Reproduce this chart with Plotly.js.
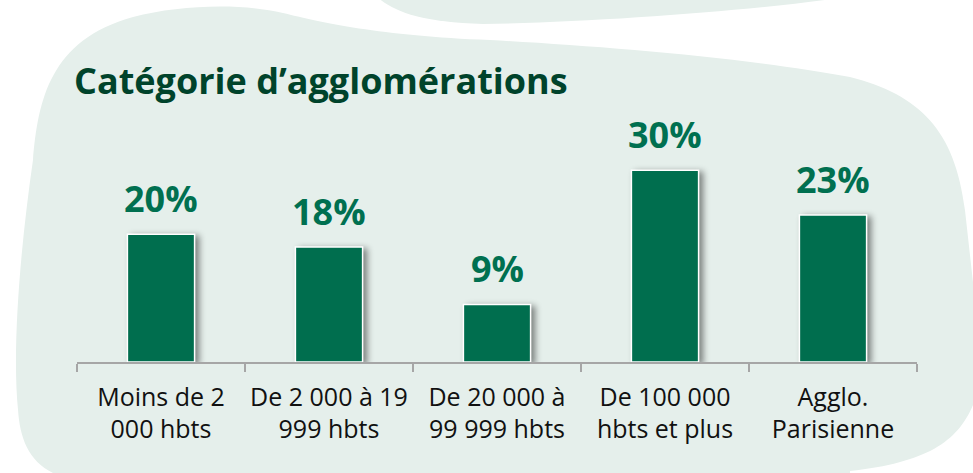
<!DOCTYPE html>
<html>
<head>
<meta charset="utf-8">
<script src="https://cdn.plot.ly/plotly-3.0.1.min.js"></script>
<style>
  html, body { margin: 0; padding: 0; background: #ffffff; }
  #chart { width: 973px; height: 473px; }
  #chart .barlayer .point path { filter: drop-shadow(4px 2px 3px rgba(0,0,0,0.45)); }
</style>
</head>
<body>
<div id="chart"></div>
<script>
// ---- data ----
const categories = [
  "Moins de 2<br>000 hbts",
  "De 2 000 à 19<br>999 hbts",
  "De 20 000 à<br>99 999 hbts",
  "De 100 000<br>hbts et plus",
  "Agglo.<br>Parisienne"
];
const values = [20, 18, 9, 30, 23];
const valueLabels = ["20%", "18%", "9%", "30%", "23%"];
const chartTitle = "Catégorie d’agglomérations";

// ---- layout geometry ----
const W = 973, H = 473;
const M = { l: 77, r: 56, t: 100, b: 111 };
const plotW = W - M.l - M.r, plotH = H - M.t - M.b;

// pixel -> paper helper for decorative background blobs
function toPaper(pts) {
  return pts.map(p => [(p[0] - M.l) / plotW, (H - M.b - p[1]) / plotH]);
}
function pathFrom(cmds) {
  return cmds.map(c => {
    if (c[0] === 'Z') return 'Z';
    const pp = toPaper(c[1]).map(q => q[0].toFixed(4) + ',' + q[1].toFixed(4)).join(' ');
    return c[0] + ' ' + pp;
  }).join(' ');
}

const mainBlob = pathFrom([
  ['M', [[60, 476]]],
  ['C', [[30, 465], [20, 440], [18, 410]]],
  ['C', [[12, 350], [20, 250], [33, 160]]],
  ['C', [[38, 100], [50, 40], [133, 17]]],
  ['C', [[180, 5], [240, 3], [283, 13]]],
  ['C', [[320, 22], [380, 36], [490, 40]]],
  ['C', [[600, 46], [750, 58], [850, 77]]],
  ['C', [[920, 95], [955, 130], [965, 210]]],
  ['L', [[975, 300]]],
  ['L', [[975, 400]]],
  ['C', [[960, 440], [930, 462], [850, 471]]],
  ['L', [[850, 476]]],
  ['Z']
]);
const topBlob = pathFrom([
  ['M', [[377, -3]]],
  ['C', [[395, 12], [420, 22], [483, 24]]],
  ['C', [[600, 22], [760, 10], [846, -3]]],
  ['Z']
]);

const barTrace = {
  type: 'bar',
  x: categories,
  y: values,
  width: 0.4,
  marker: { color: '#006e4e', line: { color: '#ffffff', width: 1.5 } },
  hoverinfo: 'skip'
};

const annotations = values.map((v, i) => ({
  x: categories[i],
  y: v,
  xref: 'x', yref: 'y',
  text: valueLabels[i],
  showarrow: false,
  yanchor: 'bottom',
  yshift: 9,
  font: { family: 'Open Sans, sans-serif', size: 36, color: '#007050', weight: 'bold' }
}));

const layout = {
  width: W, height: H,
  margin: M,
  paper_bgcolor: '#ffffff',
  plot_bgcolor: 'rgba(0,0,0,0)',
  showlegend: false,
  title: {
    text: '<b>' + chartTitle + '</b>',
    x: 74 / W, xanchor: 'left', xref: 'container',
    y: 1 - 81 / H, yanchor: 'middle', yref: 'container',
    font: { family: 'Open Sans, sans-serif', size: 36, color: '#00432b' }
  },
  xaxis: {
    type: 'category',
    showline: true, linecolor: '#a6a6a6', linewidth: 1.5,
    ticks: 'outside', tickson: 'boundaries', ticklen: 8, tickcolor: '#a6a6a6', tickwidth: 1.5,
    ticklabelstandoff: 12,
    showgrid: false, zeroline: false,
    tickfont: { family: 'Open Sans, sans-serif', size: 25, color: '#111111' },
    fixedrange: true
  },
  yaxis: {
    range: [0, 41],
    visible: false,
    showgrid: false, zeroline: false,
    fixedrange: true
  },
  annotations: annotations,
  shapes: [
    { type: 'path', path: mainBlob, xref: 'paper', yref: 'paper', fillcolor: '#e5efeb', line: { width: 0 }, layer: 'below' },
    { type: 'path', path: topBlob, xref: 'paper', yref: 'paper', fillcolor: '#e5efeb', line: { width: 0 }, layer: 'below' }
  ]
};

Plotly.newPlot('chart', [barTrace], layout, { displayModeBar: false, staticPlot: true });
</script>
</body>
</html>
